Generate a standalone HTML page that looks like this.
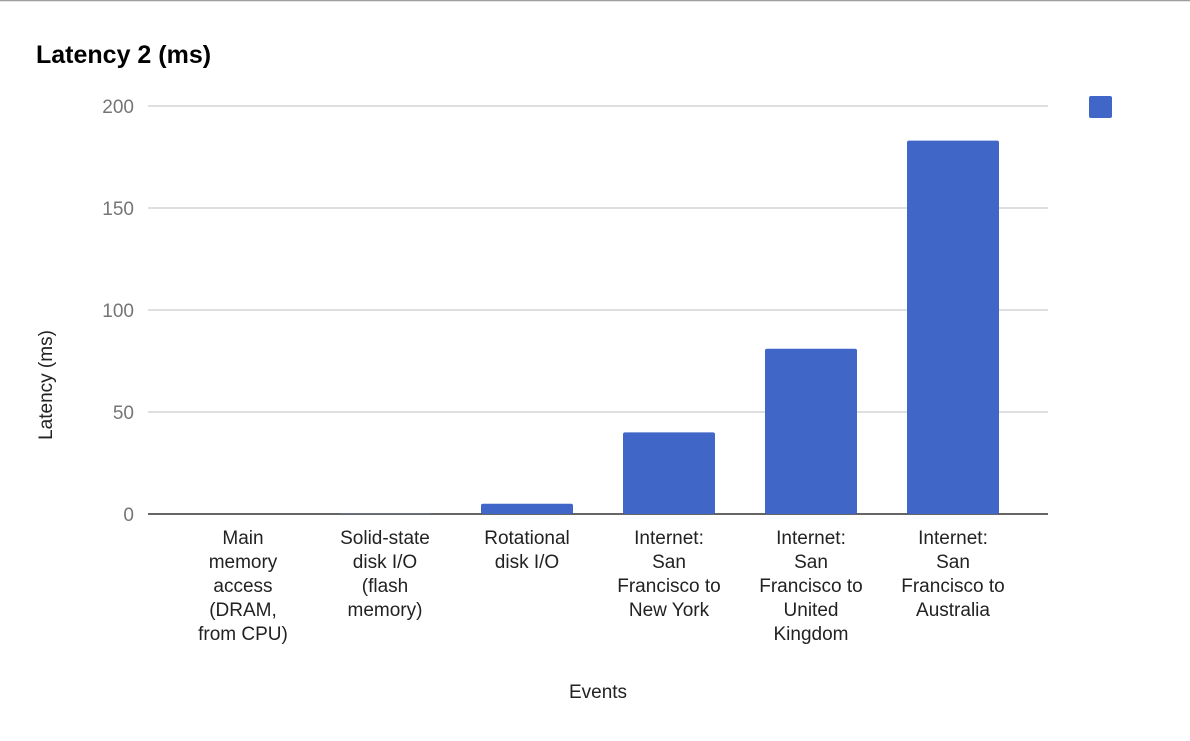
<!DOCTYPE html>
<html><head><meta charset="utf-8"><style>
body{margin:0;background:#fff;width:1190px;height:736px;overflow:hidden;font-family:"Liberation Sans",sans-serif}
</style></head><body>
<svg width="1190" height="736">
<line x1="0" y1="0.5" x2="1190" y2="0.5" stroke="#9e9e9e" stroke-width="1.5"/>
<text x="36" y="63" font-size="25" font-weight="bold" fill="#000">Latency 2 (ms)</text>
<g id="grid"></g><g id="bars"></g><g id="xlabels"></g>
<text x="0" y="0" transform="translate(52,385) rotate(-90)" text-anchor="middle" font-size="19" fill="#222">Latency (ms)</text>
<text x="598" y="698" text-anchor="middle" font-size="19" fill="#222">Events</text>
<rect x="1089" y="96" width="23" height="22" rx="2" fill="#4066c8"/>
</svg>
<script>
const categories=[["Main","memory","access","(DRAM,","from CPU)"],["Solid-state","disk I/O","(flash","memory)"],["Rotational","disk I/O"],["Internet:","San","Francisco to","New York"],["Internet:","San","Francisco to","United","Kingdom"],["Internet:","San","Francisco to","Australia"]];
const values=[0.0001,0.1,5,40,81,183];
const ticks=[0,50,100,150,200];
const ns="http://www.w3.org/2000/svg";
const y=v=>514-v*2.04;
const bandX=i=>172+i*142;
function mk(t,a,p){const e=document.createElementNS(ns,t);for(const k in a)e.setAttribute(k,a[k]);p.appendChild(e);return e;}
const grid=document.getElementById('grid');
ticks.forEach(t=>{
 const l=mk('line',{x1:148,x2:1048,y1:y(t),y2:y(t),stroke:t===0?'#333':'#ccc','stroke-width':t===0?1.5:1.2},grid);
 
 
 const tx=mk('text',{x:134,y:y(t)+7,'text-anchor':'end','font-size':19,fill:'#757575'},grid);
 tx.textContent=t;
 
 
});
const bars=document.getElementById('bars');
values.forEach((v,i)=>{
 const h=v*2.04;
 const r=mk('rect',{x:bandX(i)+25,y:y(v),width:92,height:h,fill:'#4066c8',rx:2},bars);
 
 
});
const xl=document.getElementById('xlabels');
categories.forEach((c,i)=>{
 const t=mk('text',{'text-anchor':'middle','font-size':19,fill:'#222'},xl);
 
 
 c.forEach((s,j)=>{const ts=mk('tspan',{x:bandX(i)+71,y:544+j*24},t);ts.textContent=s;});
});
</script>
</body></html>
